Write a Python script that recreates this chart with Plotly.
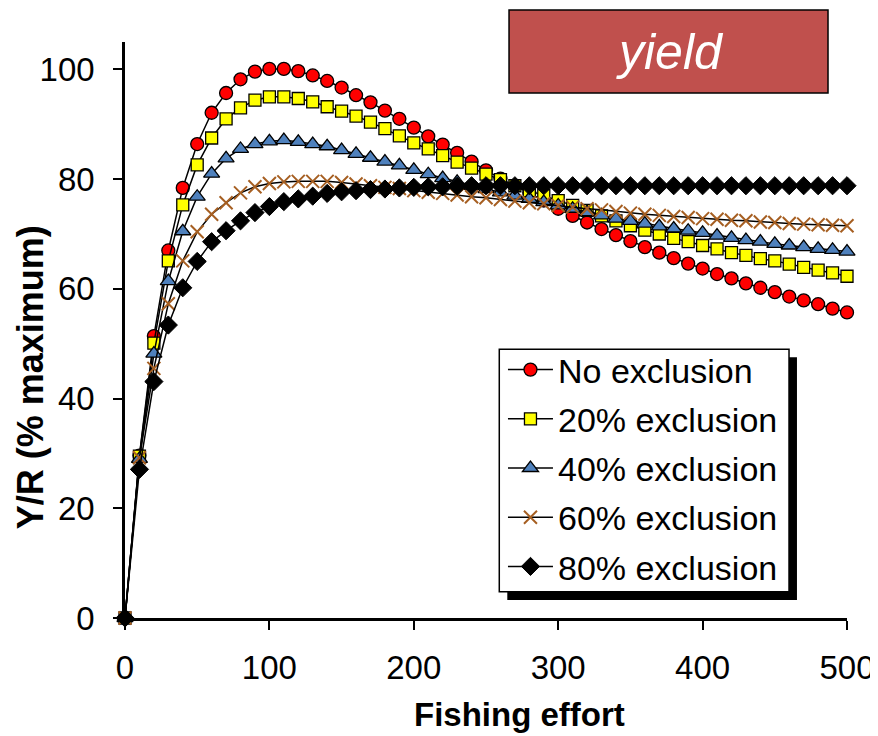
import plotly.graph_objects as go

effort = [0, 10, 20, 30, 40, 50, 60, 70, 80, 90, 100, 110, 120, 130, 140, 150, 160, 170, 180, 190,
          200, 210, 220, 230, 240, 250, 260, 270, 280, 290, 300, 310, 320, 330, 340, 350, 360, 370,
          380, 390, 400, 410, 420, 430, 440, 450, 460, 470, 480, 490, 500]

no_excl = [0, 29.6, 51.4, 67.0, 78.4, 86.4, 92.1, 95.7, 98.2, 99.6, 100.1, 100.1, 99.7, 98.9, 97.9,
           96.7, 95.3, 94.0, 92.5, 91.0, 89.4, 87.8, 86.3, 84.8, 83.2, 81.6, 80.1, 78.8, 77.5, 76.1,
           74.6, 73.3, 72.1, 70.9, 69.8, 68.7, 67.6, 66.6, 65.6, 64.6, 63.7, 62.7, 61.9, 61.0, 60.2,
           59.4, 58.6, 57.9, 57.2, 56.4, 55.7]

excl20 = [0, 29.5, 50.1, 65.1, 75.3, 82.6, 87.5, 91.0, 93.0, 94.4, 95.0, 95.0, 94.7, 94.1, 93.2,
          92.4, 91.5, 90.4, 89.2, 87.9, 86.6, 85.5, 84.3, 83.1, 82.0, 80.9, 79.9, 78.8, 77.9, 77.0,
          76.1, 75.2, 74.3, 73.3, 72.4, 71.5, 70.7, 70.0, 69.2, 68.6, 67.9, 67.3, 66.6, 66.1, 65.5,
          65.1, 64.5, 63.9, 63.4, 62.9, 62.3]

excl40 = [0, 29.0, 48.2, 61.4, 70.5, 76.8, 81.0, 83.8, 85.5, 86.4, 86.9, 87.1, 86.8, 86.4, 86.0,
          85.3, 84.6, 83.9, 83.2, 82.5, 81.7, 80.9, 80.2, 79.5, 78.8, 78.2, 77.6, 77.0, 76.4, 75.8,
          75.2, 74.6, 74.0, 73.4, 72.8, 72.4, 71.9, 71.4, 71.0, 70.6, 70.2, 69.7, 69.3, 68.9, 68.6,
          68.2, 67.9, 67.6, 67.3, 67.1, 66.8]

excl60 = [0, 29.2, 45.5, 57.3, 65.1, 70.4, 73.6, 75.7, 77.5, 78.6, 79.2, 79.5, 79.6, 79.6, 79.6,
          79.4, 79.1, 78.8, 78.5, 78.3, 77.9, 77.6, 77.4, 77.1, 76.8, 76.6, 76.3, 76.0, 75.7, 75.5,
          75.2, 74.9, 74.6, 74.4, 74.1, 73.8, 73.6, 73.4, 73.2, 73.0, 72.8, 72.7, 72.5, 72.4, 72.2,
          72.1, 71.9, 71.8, 71.7, 71.6, 71.5]

excl80 = [0, 27.1, 43.1, 53.4, 60.2, 65.0, 68.6, 70.6, 72.4, 73.9, 75.0, 75.9, 76.4, 76.9, 77.4,
          77.7, 77.9, 78.1, 78.2, 78.4, 78.5, 78.6, 78.6, 78.7, 78.8, 78.8, 78.8, 78.8, 78.8, 78.8,
          78.8, 78.8, 78.8, 78.8, 78.8, 78.8, 78.8, 78.8, 78.8, 78.8, 78.8, 78.8, 78.8, 78.8, 78.8,
          78.8, 78.8, 78.8, 78.8, 78.8, 78.8]

series_names = ["No exclusion", "20% exclusion", "40% exclusion", "60% exclusion", "80% exclusion"]
x_ticks = [0, 100, 200, 300, 400, 500]
y_ticks = [0, 20, 40, 60, 80, 100]

FONT = "Liberation Sans, Arial, sans-serif"

styles = [
    dict(symbol="circle", size=13, color="#FF0000", line=dict(color="black", width=1.3)),
    dict(symbol="square", size=12, color="#FFFF00", line=dict(color="black", width=1.3)),
    dict(symbol="triangle-up", size=14, color="#4F81BD", line=dict(color="black", width=1.3)),
    dict(symbol="x-thin", size=13, color="#A65F22", line=dict(color="#A65F22", width=2)),
    dict(symbol="diamond", size=14, color="black", line=dict(color="black", width=1)),
]

fig = go.Figure()
for i, (name, ys) in enumerate(zip(series_names, [no_excl, excl20, excl40, excl60, excl80])):
    fig.add_trace(go.Scatter(
        x=effort, y=ys, name=name, mode="lines+markers",
        line=dict(color="black", width=1.5),
        marker=styles[i], cliponaxis=False, legendgroup=f"g{i}",
    ))

# the page body has an 8px margin, so the figure is 8px smaller and margins compensate
fig.update_layout(
    width=870, height=728,
    margin=dict(l=117, r=31, t=34, b=118, autoexpand=False),
    paper_bgcolor="white", plot_bgcolor="white",
    font=dict(family=FONT, color="black", size=33),
    showlegend=True,
    legend=dict(
        x=0.5235, y=0.4809, xanchor="left", yanchor="top",
        bgcolor="rgba(0,0,0,0)", borderwidth=0,
        font=dict(family=FONT, size=34, color="black"),
        itemwidth=45, tracegroupgap=2,
    ),
    xaxis=dict(
        range=[0, 500], tickvals=x_ticks, ticktext=[str(v) for v in x_ticks],
        showgrid=False, zeroline=False, showline=True, linecolor="black", linewidth=2.5,
        ticks="outside", ticklen=9, tickwidth=1.5, tickcolor="black",
        tickfont=dict(family=FONT, size=33), ticklabelstandoff=10,
    ),
    yaxis=dict(
        range=[0, 105], tickvals=y_ticks, ticktext=[str(v) for v in y_ticks],
        showgrid=False, zeroline=False, showline=True, linecolor="black", linewidth=2.5,
        ticks="outside", ticklen=9, tickwidth=1.5, tickcolor="black",
        tickfont=dict(family=FONT, size=33), ticklabelstandoff=12,
    ),
)

# legend drop shadow and box
fig.add_shape(type="rect", xref="paper", yref="paper",
              x0=0.5295, x1=0.9307, y0=0.03125, y1=0.4526,
              fillcolor="black", line=dict(width=0), layer="above")
fig.add_shape(type="rect", xref="paper", yref="paper",
              x0=0.5184, x1=0.9197, y0=0.0457, y1=0.4665,
              fillcolor="white", line=dict(color="black", width=1.5), layer="above")

# "yield" label box
fig.add_shape(type="rect", xref="paper", yref="paper",
              x0=0.5319, x1=0.9737, y0=0.9115, y1=1.0556,
              fillcolor="#C0504D", line=dict(color="black", width=1.5), layer="above")
fig.add_annotation(text="<i>yield</i>", xref="paper", yref="paper",
                   x=0.7548, y=0.9826, xanchor="center", yanchor="middle", showarrow=False,
                   font=dict(family=FONT, size=50, color="white"))

# axis titles
fig.add_annotation(text="<b>Fishing effort</b>", xref="paper", yref="paper",
                   x=0.547, y=-0.168, xanchor="center", yanchor="middle", showarrow=False,
                   font=dict(family=FONT, size=33, color="black"))
fig.add_annotation(text="<b>Y/R (% maximum)</b>", xref="paper", yref="paper",
                   x=-0.1316, y=0.418, xanchor="center", yanchor="middle", showarrow=False,
                   textangle=-90, font=dict(family=FONT, size=36, color="black"))

fig.write_html("out.html")
